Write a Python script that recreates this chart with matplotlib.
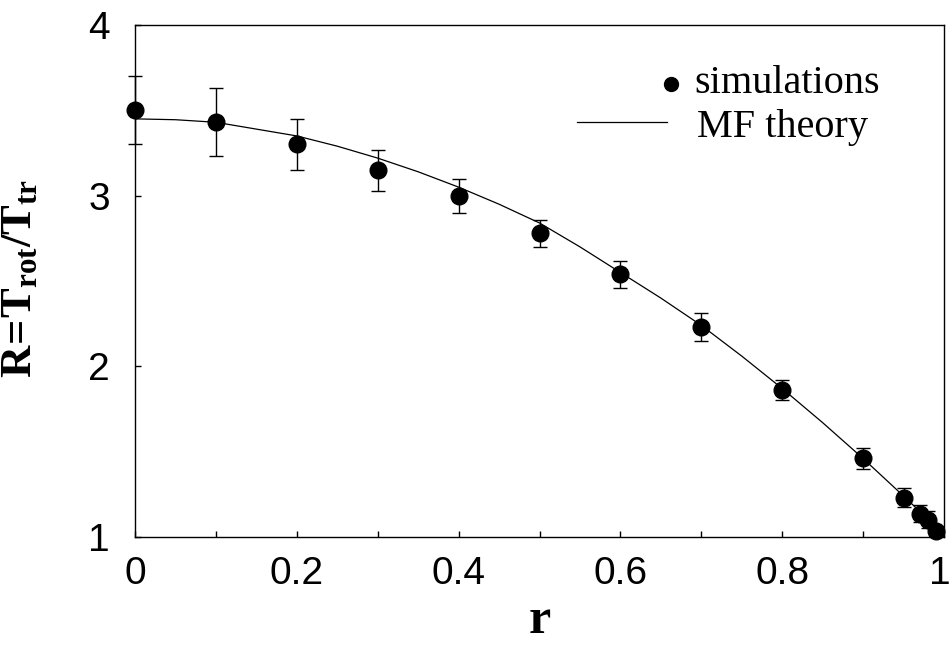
import matplotlib
matplotlib.use("Agg")
import matplotlib.pyplot as plt
import matplotlib.transforms as mtransforms
import numpy as np

# Simulation data
r_sim = [0.0, 0.1, 0.2, 0.3, 0.4, 0.5, 0.6, 0.7, 0.8, 0.9, 0.95, 0.97, 0.98, 0.99]
R_sim = [3.50, 3.43, 3.30, 3.15, 3.00, 2.78, 2.54, 2.23, 1.86, 1.46, 1.23, 1.135, 1.10, 1.035]
R_err = [0.20, 0.20, 0.15, 0.12, 0.10, 0.08, 0.08, 0.08, 0.057, 0.06, 0.055, 0.05, 0.05, 0.03]

# MF theory curve
r_th = [0.0, 0.05, 0.1, 0.15, 0.2, 0.25, 0.3, 0.35, 0.4, 0.45, 0.5, 0.55, 0.6,
        0.65, 0.7, 0.75, 0.8, 0.85, 0.9, 0.95, 0.97, 1.0]
R_th = [3.45, 3.445, 3.43, 3.39, 3.35, 3.29, 3.22, 3.14, 3.05, 2.95, 2.84, 2.70, 2.55,
        2.40, 2.24, 2.06, 1.87, 1.67, 1.46, 1.24, 1.15, 1.00]

xticks = [0, 0.2, 0.4, 0.6, 0.8, 1]
xtick_labels = ["0", "0.2", "0.4", "0.6", "0.8", "1"]
yticks = [1, 2, 3, 4]
ytick_labels = ["1", "2", "3", "4"]

plt.rcParams['font.family'] = ['Liberation Sans', 'DejaVu Sans']
plt.rcParams['mathtext.fontset'] = 'custom'
plt.rcParams['mathtext.bf'] = 'Liberation Serif:bold'
plt.rcParams['mathtext.rm'] = 'Liberation Serif'

fig = plt.figure(figsize=(9.51, 6.47), dpi=100)
ax = fig.add_axes([135/951, 1-537/647, 809/951, 512/647])

ax.plot(r_th, R_th, color='black', lw=0.9, zorder=2)
ax.errorbar(r_sim, R_sim, yerr=R_err, fmt='o', color='black', ms=12,
            ecolor='black', elinewidth=1.0, capsize=5, capthick=1.0, zorder=3,
            clip_on=False)

ax.set_xlim(0, 1)
ax.set_ylim(1, 4)
ax.set_xticks(xticks)
ax.set_xticklabels(xtick_labels)
ax.set_xticks(np.arange(0, 1.01, 0.1), minor=True)
ax.set_yticks(yticks)
ax.set_yticklabels(ytick_labels)
ax.tick_params(axis='both', which='both', direction='in', length=4, width=1,
               labelsize=28)
ax.tick_params(axis='x', pad=14)
ax.tick_params(axis='y', pad=18)
for s in ax.spines.values():
    s.set_linewidth(1.0)

# nudge the last x tick label slightly left so it stays inside the figure
last = ax.get_xticklabels()[-1]
last.set_transform(last.get_transform() +
                   mtransforms.ScaledTranslation(-4/100, 0, fig.dpi_scale_trans))

ax.set_xlabel(r'$\mathbf{r}$', fontsize=36)
ax.xaxis.set_label_coords(0.5, -0.118)
ax.set_ylabel(r'$\mathbf{R\!=\!T_{rot}/T_{tr}}$', fontsize=32)
ax.yaxis.set_label_coords(-0.118, 0.505)

# legend (drawn manually)
ax.plot([0.662], [0.885], 'o', color='black', ms=10, transform=ax.transAxes, clip_on=False)
ax.text(0.691, 0.867, 'simulations', transform=ax.transAxes, fontsize=29,
        family='Liberation Serif', va='baseline', ha='left')
ax.plot([0.546, 0.658], [0.811, 0.811], color='black', lw=0.9, transform=ax.transAxes)
ax.text(0.695, 0.781, 'MF theory', transform=ax.transAxes, fontsize=29,
        family='Liberation Serif', va='baseline', ha='left')

fig.savefig('out.png', dpi=100)
